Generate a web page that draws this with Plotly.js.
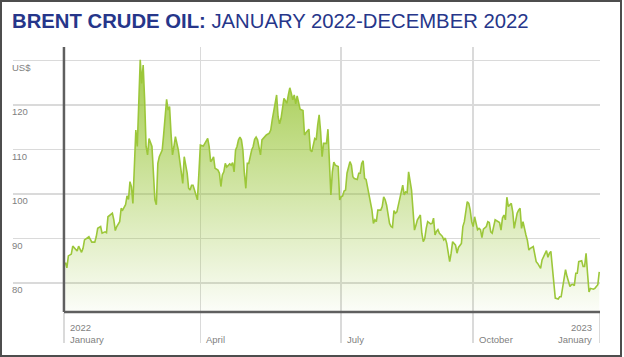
<!DOCTYPE html>
<html>
<head>
<meta charset="utf-8">
<script src="https://cdn.plot.ly/plotly-3.0.1.min.js"></script>
<style>
  html, body { margin: 0; padding: 0; background: #ffffff; }
  #wrap { position: relative; width: 624px; height: 357px; }
  #chart { position: absolute; left: 0; top: 0; width: 624px; height: 357px; }
  #frame { position: absolute; left: 0; top: 0; width: 622px; height: 357px; box-sizing: border-box;
           border: 2px solid #4d4d4d; pointer-events: none; }
</style>
</head>
<body>
<div id="wrap"><div id="chart"></div><div id="frame"></div></div>
<script>
// Brent crude oil price, US$ per barrel
const dates = [
'2022-01-02','2022-01-03','2022-01-04','2022-01-06','2022-01-07','2022-01-09','2022-01-10','2022-01-11','2022-01-13','2022-01-14','2022-01-15','2022-01-18','2022-01-20','2022-01-22','2022-01-23','2022-01-24','2022-01-26','2022-01-27','2022-01-29','2022-01-30','2022-01-31',
'2022-02-03','2022-02-04','2022-02-05','2022-02-06','2022-02-08','2022-02-09','2022-02-10','2022-02-12','2022-02-13','2022-02-14','2022-02-15','2022-02-16','2022-02-17','2022-02-18','2022-02-19','2022-02-20','2022-02-21','2022-02-22','2022-02-23','2022-02-24','2022-02-25','2022-02-26','2022-02-27','2022-02-28',
'2022-03-02','2022-03-03','2022-03-04','2022-03-05','2022-03-06','2022-03-07','2022-03-09','2022-03-10','2022-03-12','2022-03-13','2022-03-14','2022-03-15','2022-03-16','2022-03-17','2022-03-18','2022-03-20','2022-03-21','2022-03-22','2022-03-23','2022-03-24','2022-03-26','2022-03-27','2022-03-28','2022-03-29','2022-03-30','2022-03-31',
'2022-04-02','2022-04-03','2022-04-04','2022-04-06','2022-04-07','2022-04-09','2022-04-10','2022-04-11','2022-04-12','2022-04-13','2022-04-14','2022-04-16','2022-04-17','2022-04-18','2022-04-19','2022-04-20','2022-04-21','2022-04-22','2022-04-24','2022-04-25','2022-04-26','2022-04-27','2022-04-28','2022-04-29','2022-04-30',
'2022-05-01','2022-05-02','2022-05-03','2022-05-04','2022-05-05','2022-05-06','2022-05-07','2022-05-09','2022-05-10','2022-05-11','2022-05-12','2022-05-13','2022-05-14','2022-05-15','2022-05-16','2022-05-18','2022-05-19','2022-05-21','2022-05-22','2022-05-23','2022-05-24','2022-05-25','2022-05-26','2022-05-27','2022-05-28','2022-05-29','2022-05-31',
'2022-06-01','2022-06-02','2022-06-03','2022-06-04','2022-06-05','2022-06-06','2022-06-07','2022-06-08','2022-06-09','2022-06-10','2022-06-11','2022-06-13','2022-06-14','2022-06-15','2022-06-17','2022-06-18','2022-06-19','2022-06-21','2022-06-22','2022-06-23','2022-06-24','2022-06-25','2022-06-26','2022-06-27','2022-06-29','2022-06-30',
'2022-07-01','2022-07-02','2022-07-03','2022-07-04','2022-07-05','2022-07-07','2022-07-08','2022-07-09','2022-07-10','2022-07-11','2022-07-12','2022-07-13','2022-07-15','2022-07-16','2022-07-17','2022-07-18','2022-07-20','2022-07-21','2022-07-22','2022-07-23','2022-07-24','2022-07-25','2022-07-26','2022-07-28','2022-07-29','2022-07-30','2022-07-31',
'2022-08-01','2022-08-02','2022-08-03','2022-08-05','2022-08-06','2022-08-07','2022-08-08','2022-08-09','2022-08-11','2022-08-12','2022-08-13','2022-08-14','2022-08-15','2022-08-16','2022-08-18','2022-08-19','2022-08-20','2022-08-21','2022-08-22','2022-08-23','2022-08-24','2022-08-26','2022-08-27','2022-08-28','2022-08-29','2022-08-30',
'2022-09-01','2022-09-02','2022-09-03','2022-09-04','2022-09-05','2022-09-06','2022-09-08','2022-09-09','2022-09-10','2022-09-11','2022-09-12','2022-09-13','2022-09-14','2022-09-16','2022-09-17','2022-09-18','2022-09-19','2022-09-20','2022-09-21','2022-09-22','2022-09-23','2022-09-25','2022-09-26','2022-09-27','2022-09-28','2022-09-29','2022-09-30',
'2022-10-01','2022-10-03','2022-10-04','2022-10-05','2022-10-06','2022-10-07','2022-10-08','2022-10-10','2022-10-11','2022-10-12','2022-10-13','2022-10-14','2022-10-16','2022-10-17','2022-10-18','2022-10-19','2022-10-20','2022-10-22','2022-10-23','2022-10-25','2022-10-26','2022-10-27','2022-10-28','2022-10-29','2022-10-30','2022-10-31',
'2022-11-02','2022-11-03','2022-11-04','2022-11-05','2022-11-06','2022-11-07','2022-11-08','2022-11-09','2022-11-10','2022-11-12','2022-11-13','2022-11-14','2022-11-15','2022-11-17','2022-11-18','2022-11-19','2022-11-20','2022-11-21','2022-11-22','2022-11-23','2022-11-25','2022-11-26','2022-11-27','2022-11-28','2022-11-29','2022-11-30',
'2022-12-01','2022-12-02','2022-12-04','2022-12-05','2022-12-06','2022-12-07','2022-12-09','2022-12-10','2022-12-12','2022-12-13','2022-12-14','2022-12-15','2022-12-16','2022-12-17','2022-12-18','2022-12-20','2022-12-21','2022-12-22','2022-12-23','2022-12-24','2022-12-25','2022-12-26','2022-12-28','2022-12-29','2022-12-30','2022-12-31',
'2023-01-01'
];
const brent = [
84.6,83.4,86.1,86.5,88.3,87.6,87.2,88.3,86.9,87.8,89.7,90.4,89.2,89.2,90.4,92.3,92.7,91.2,91.5,91.3,94.9,
95.7,94.2,91.8,92.7,93.8,96.8,96.4,97.6,99.6,98.8,102.8,101.7,97.9,105.4,114.4,110.7,119.7,130.2,124.9,129.0,121.2,110.7,108.8,112.5,
110.7,103.2,98.7,97.6,106.9,108.4,109.9,113.5,121.3,118.9,119.7,113.7,108.8,110.7,112.9,109.9,106.9,104.7,102.4,108.4,104.7,101.3,100.9,102.0,102.0,100.9,
98.7,104.7,111.0,110.8,111.4,112.5,110.7,107.3,107.7,108.4,105.8,105.4,104.7,101.7,104.3,105.0,106.9,106.1,106.8,106.5,107.1,105.0,109.9,110.7,112.2,
112.8,112.2,109.9,104.7,101.3,106.9,106.9,109.9,110.7,112.3,112.8,112.2,110.3,108.8,112.2,112.9,113.3,113.7,114.4,116.7,118.9,120.4,122.3,117.4,115.8,117.0,121.5,
121.0,120.4,122.3,123.9,122.7,121.2,122.3,120.3,122.1,120.8,119.1,118.8,113.3,113.8,114.6,109.9,109.5,112.5,112.2,115.5,117.8,114.0,108.4,111.4,111.4,114.6,
108.4,99.8,105.0,107.2,106.5,106.2,98.7,99.4,99.6,100.7,100.9,104.7,107.3,106.5,103.9,103.5,103.3,104.7,104.7,106.9,107.5,103.5,103.3,99.8,98.7,96.4,93.4,
94.2,93.8,96.4,96.4,97.2,99.4,98.7,97.5,93.4,92.7,92.5,96.3,95.7,96.0,98.7,100.2,102.0,99.8,100.5,100.3,105.0,100.9,96.0,91.9,93.0,94.2,
95.3,91.2,89.3,90.0,92.3,93.8,93.3,93.4,94.6,90.8,91.6,92.0,91.2,90.5,89.7,90.1,88.9,86.7,84.8,86.7,89.3,88.5,86.7,88.0,88.5,88.9,92.7,
93.8,98.3,97.9,96.4,93.8,92.7,94.9,92.0,92.3,92.0,90.2,92.1,92.7,93.8,93.6,91.5,91.2,94.2,94.0,93.6,91.9,94.6,95.3,94.2,99.3,97.2,
97.9,96.0,92.3,93.8,95.7,96.4,96.8,92.3,93.8,90.8,89.6,87.4,87.8,88.2,85.9,84.8,84.4,83.7,83.3,85.2,86.7,87.3,85.8,86.7,87.1,83.0,
80.7,76.6,76.4,76.9,76.9,78.8,83.0,81.5,79.2,79.6,79.7,79.4,82.2,82.2,84.8,85.0,83.7,83.7,86.7,82.2,78.0,78.8,78.6,78.8,79.3,79.6,
82.5
];

// Axis ticks (positions of the quarter lines as drawn in the reference)
const xTickDates = ['2022-01-01','2022-04-04','2022-07-09','2022-10-07','2023-01-01'];
const xMonthLabels = ['January','April','July','October','January'];
const xYearLabels = [['2022-01-01','2022'],['2023-01-01','2023']];
const yTickVals = [80, 90, 100, 110, 120, 130];
const yTickText = ['80', '90', '100', '110', '120', 'US$'];

const FONT = 'Liberation Sans, Arial, Helvetica, sans-serif';
const LABEL_GREY = '#7f7f7f';
const GRID_GREY = '#dadada';
const AXIS_DARK = '#5f5f5f';

const trace = {
  type: 'scatter',
  mode: 'lines',
  x: dates,
  y: brent,
  line: { color: '#9cc73a', width: 1.6 },
  fill: 'tozeroy',
  fillgradient: {
    type: 'vertical',
    start: 73.5,
    stop: 131,
    colorscale: [[0, 'rgba(150,196,50,0.03)'], [1, 'rgba(150,196,50,0.88)']]
  },
  hoverinfo: 'skip'
};

const annotations = [];
xTickDates.forEach((d, i) => {
  const last = i === xTickDates.length - 1;
  annotations.push({
    x: d, xref: 'x', y: -0.104, yref: 'paper',
    text: xMonthLabels[i], showarrow: false,
    xanchor: last ? 'right' : 'left', yanchor: 'middle',
    xshift: last ? -5 : 4,
    font: { family: FONT, size: 9.5, color: LABEL_GREY }
  });
});
xYearLabels.forEach(([d, t], i) => {
  annotations.push({
    x: d, xref: 'x', y: -0.059, yref: 'paper',
    text: t, showarrow: false,
    xanchor: i === 0 ? 'left' : 'right', yanchor: 'middle',
    xshift: i === 0 ? 4 : -5,
    font: { family: FONT, size: 9.5, color: LABEL_GREY }
  });
});

const layout = {
  width: 624,
  height: 357,
  margin: { l: 13, r: 24, t: 47, b: 45, pad: 0 },
  paper_bgcolor: '#ffffff',
  plot_bgcolor: '#ffffff',
  showlegend: false,
  title: {
    text: '<b>BRENT CRUDE OIL:</b> JANUARY 2022-DECEMBER 2022',
    font: { family: FONT, size: 20.3, color: '#26368a' },
    x: 12 / 624, xanchor: 'left', xref: 'container',
    y: 1 - 20.5 / 357, yanchor: 'middle', yref: 'container'
  },
  xaxis: {
    type: 'date',
    range: ['2021-11-27 06:00', '2023-01-01 12:00'],
    tickvals: xTickDates,
    showticklabels: false,
    showgrid: true,
    gridcolor: GRID_GREY,
    gridwidth: 1.5,
    ticks: 'outside',
    ticklen: 30,
    tickwidth: 1.5,
    tickcolor: GRID_GREY,
    showline: false,
    zeroline: false,
    fixedrange: true
  },
  yaxis: {
    range: [73.48, 133.08],
    tickvals: yTickVals,
    ticktext: yTickText,
    ticklabelposition: 'inside',
    ticklabelshift: 7,
    ticklabelstandoff: -4,
    tickfont: { family: FONT, size: 9.5, color: LABEL_GREY },
    showgrid: true,
    gridcolor: GRID_GREY,
    gridwidth: 1.5,
    ticks: '',
    showline: false,
    zeroline: false,
    fixedrange: true
  },
  shapes: [
    { type: 'line', xref: 'x', yref: 'paper', x0: '2022-01-01', x1: '2022-01-01', y0: 0, y1: 1,
      line: { color: AXIS_DARK, width: 2.5 }, layer: 'above' },
    { type: 'line', xref: 'x', yref: 'paper', x0: '2022-01-01', x1: '2023-01-01 12:00', y0: 0, y1: 0,
      line: { color: AXIS_DARK, width: 2.5 }, layer: 'above' }
  ],
  annotations: annotations
};

Plotly.newPlot('chart', [trace], layout, { displayModeBar: false, staticPlot: true });
</script>
</body>
</html>
